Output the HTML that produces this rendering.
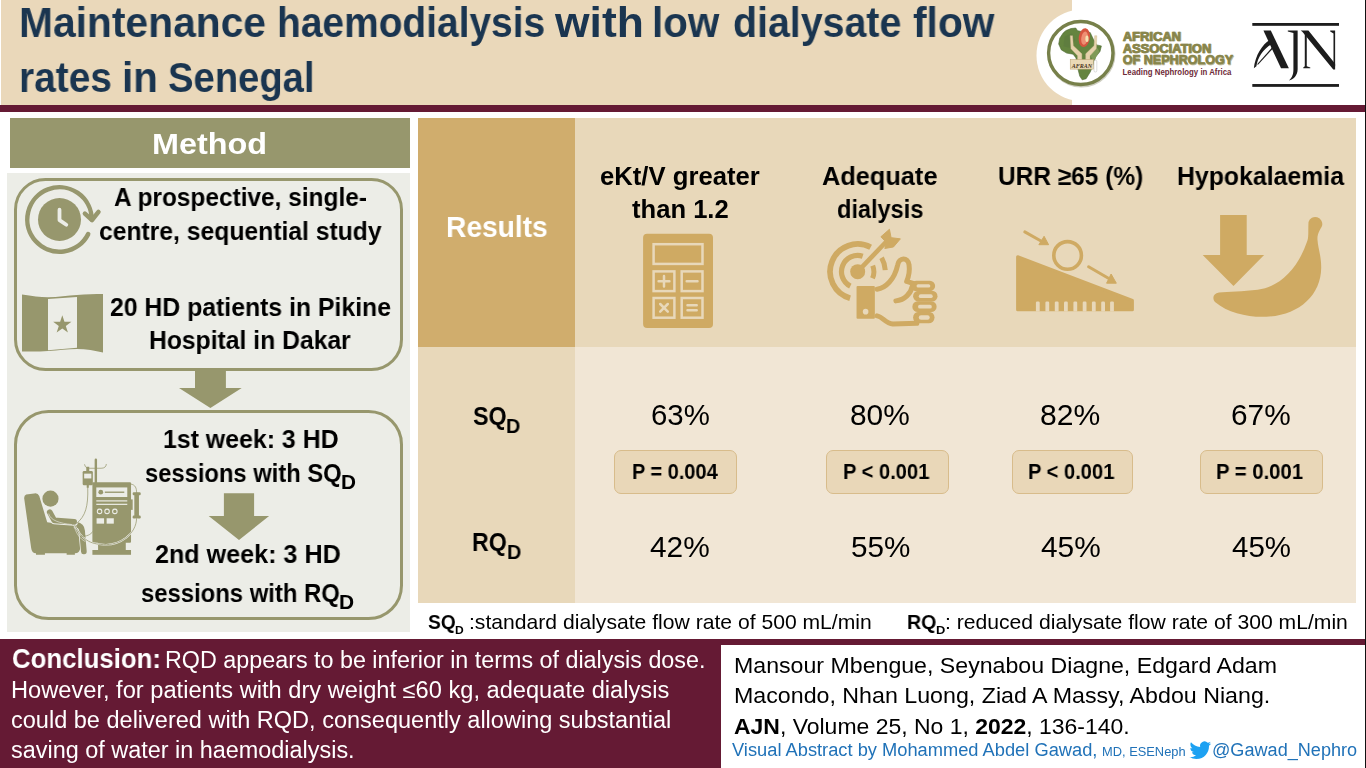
<!DOCTYPE html>
<html lang="en"><head><meta charset="utf-8"><title>Maintenance haemodialysis with low dialysate flow rates in Senegal</title>
<style>
html,body{margin:0;padding:0}
body{width:1366px;height:768px;position:relative;overflow:hidden;background:#fff;font-family:"Liberation Sans",sans-serif}
.b{position:absolute}
.t{position:absolute;white-space:nowrap;transform-origin:0 0;line-height:normal;will-change:transform}
svg{position:absolute;left:0;top:0}
</style></head><body>
<div class="b" style="left:1px;top:0px;width:1071px;height:105px;background:#EAD8BA"></div>
<div class="b" style="left:0px;top:105px;width:1366px;height:7px;background:#651A34"></div>
<div class="b" style="left:10px;top:118px;width:400px;height:50px;background:#97976D"></div>
<div class="b" style="left:7px;top:173px;width:403px;height:459px;background:#ECEDE7"></div>
<div class="b" style="left:418px;top:118px;width:157px;height:229px;background:#D0AD6D"></div>
<div class="b" style="left:575px;top:118px;width:781px;height:229px;background:#E8D8BA"></div>
<div class="b" style="left:418px;top:347px;width:157px;height:256px;background:#E8D8BA"></div>
<div class="b" style="left:575px;top:347px;width:781px;height:256px;background:#F1E6D5"></div>
<div class="b" style="left:0px;top:639px;width:1366px;height:129px;background:#651A34"></div>
<div class="b" style="left:721px;top:645px;width:645px;height:123px;background:#fff"></div>
<div class="b" style="left:1365px;top:0px;width:1px;height:768px;background:#111"></div>
<div class="b" style="left:614.2px;top:450px;width:120.8px;height:41.5px;background:#E9D7B8;border:1px solid #D8BC8B;border-radius:7px"></div>
<div class="b" style="left:826.3px;top:450px;width:120.6px;height:41.5px;background:#E9D7B8;border:1px solid #D8BC8B;border-radius:7px"></div>
<div class="b" style="left:1011.6px;top:450px;width:119.9px;height:41.5px;background:#E9D7B8;border:1px solid #D8BC8B;border-radius:7px"></div>
<div class="b" style="left:1200.3px;top:450px;width:120.3px;height:41.5px;background:#E9D7B8;border:1px solid #D8BC8B;border-radius:7px"></div>
<svg width="1366" height="768" viewBox="0 0 1366 768">
<rect x="15.5" y="179.5" width="386" height="190" rx="30" fill="none" stroke="#97976D" stroke-width="3"/>
<rect x="15.5" y="411.5" width="386" height="207" rx="33" fill="none" stroke="#97976D" stroke-width="3"/>
<polygon fill="#97976D" points="195,368 225.9,368 225.9,388.1 241.7,388.1 210.4,407.9 179,388.1 195,388.1"/>
<polygon fill="#97976D" points="223.9,493.2 254.1,493.2 254.1,516 269.1,516 239,539.9 208.7,516 223.9,516"/>
<path d="M88.19,234.12 A32.2,32.2 0 1 1 91.70,219.50" fill="none" stroke="#97976D" stroke-width="4.5" stroke-linecap="round"/>
<path d="M84.9,213.6 L92,220 L98.5,211.9" fill="none" stroke="#97976D" stroke-width="4.5" stroke-linecap="round" stroke-linejoin="round"/>
<circle cx="59.5" cy="219.5" r="21.5" fill="#97976D"/>
<path d="M59.5,209.7 L59.5,220.1 L66.3,224.7" fill="none" stroke="#ECEDE7" stroke-width="3.8" stroke-linecap="round" stroke-linejoin="round"/>
<path d="M22,294.6 C32,296 40,297.3 48,297.3 C58,297.3 68,295.5 77,295 C86,294.4 95,294 103,294 L103,352.6 C95,350.5 86,349 77,349 C68,349 58,350.5 48,351 C40,351.6 32,351.8 22,351.4 Z" fill="#97976D"/>
<polygon points="48,298.9 77,297 77,347.7 48,350.3" fill="#ECEDE7"/>
<polygon points="62.30,315.20 64.47,321.81 71.43,321.83 65.82,325.94 67.94,332.57 62.30,328.50 56.66,332.57 58.78,325.94 53.17,321.83 60.13,321.81" fill="#97976D"/>
<path d="M 26.23,494.61 Q 23.68,495.66 24.28,499.10 L 31.17,548.05 Q 31.77,553.29 35.96,553.29 L 35.96,554.79 L 44.94,554.79 L 44.94,553.29 L 66.65,553.29 L 66.65,554.79 L 74.88,554.79 L 74.88,553.29 Q 79.67,553.29 80.27,548.05 L 81.17,528.59 Q 81.17,524.40 77.13,524.40 L 64.40,524.85 L 47.19,522.16 L 39.25,496.11 Q 37.75,492.51 34.16,493.41 Z" fill="#97976D"/>
<path d="M 76.38,524.85 Q 81.62,525.60 82.07,530.84 L 84.16,551.80" fill="none" stroke="#ECEDE7" stroke-width="7.49" stroke-linecap="round"/>
<path d="M 64.40,524.40 L 76.38,524.85 Q 81.62,525.60 82.07,530.84 L 83.86,551.50" fill="none" stroke="#97976D" stroke-width="5.69" stroke-linecap="round" stroke-linejoin="round"/>
<path d="M 49.73,512.13 L 54.22,520.36 L 74.13,521.86" fill="none" stroke="#ECEDE7" stroke-width="7.78" stroke-linecap="round" stroke-linejoin="round"/>
<path d="M 49.73,512.13 L 54.22,520.36 L 74.13,521.86" fill="none" stroke="#97976D" stroke-width="5.69" stroke-linecap="round" stroke-linejoin="round"/>
<circle cx="50.48" cy="498.65" r="8.08" fill="#97976D"/>
<rect x="92.40" y="482.19" width="38.62" height="60.63" rx="1" fill="#97976D"/>
<rect x="98.08" y="542.07" width="27.69" height="8.53" fill="#97976D"/>
<rect x="92.40" y="550.00" width="38.62" height="4.79" fill="#97976D"/>
<rect x="96.29" y="487.43" width="30.99" height="9.58" fill="#ECEDE7"/>
<circle cx="100.78" cy="492.22" r="2.4" fill="#97976D"/>
<line x1="104.82" y1="492.22" x2="124.28" y2="492.22" stroke="#97976D" stroke-width="1.35"/>
<line x1="96.29" y1="500.90" x2="127.28" y2="500.90" stroke="#ECEDE7" stroke-width="1.2"/>
<line x1="96.29" y1="504.34" x2="127.28" y2="504.34" stroke="#ECEDE7" stroke-width="1.2"/>
<circle cx="99.58" cy="511.38" r="2.25" fill="none" stroke="#ECEDE7" stroke-width="1.05"/>
<circle cx="107.07" cy="511.38" r="2.25" fill="none" stroke="#ECEDE7" stroke-width="1.05"/>
<circle cx="114.85" cy="511.38" r="2.25" fill="none" stroke="#ECEDE7" stroke-width="1.05"/>
<rect x="96.59" y="518.26" width="7.49" height="5.39" fill="#ECEDE7"/>
<rect x="106.62" y="518.26" width="7.19" height="5.39" fill="#ECEDE7"/>
<line x1="95.84" y1="459.73" x2="95.84" y2="482.93" stroke="#97976D" stroke-width="2.4" stroke-linecap="round"/>
<path d="M 84.61,464.67 Q 85.36,468.71 89.85,468.26 L 101.08,468.26 Q 106.02,468.26 106.32,464.37" fill="none" stroke="#97976D" stroke-width="0.75" stroke-linecap="round"/>
<rect x="82.66" y="470.96" width="10.18" height="14.22" rx="1.3" fill="#97976D"/>
<rect x="86.26" y="466.77" width="2.99" height="4.49" fill="#97976D"/>
<rect x="84.16" y="473.65" width="7.19" height="4.79" fill="#ECEDE7"/>
<rect x="86.71" y="484.88" width="2.10" height="2.84" fill="#97976D"/>
<rect x="134.31" y="492.66" width="4.64" height="25.45" rx="1.5" fill="#97976D"/>
<rect x="132.66" y="492.22" width="8.08" height="2.99" rx="1.2" fill="#97976D"/>
<rect x="132.66" y="515.57" width="8.08" height="2.99" rx="1.2" fill="#97976D"/>
<rect x="131.02" y="499.40" width="1.65" height="10.48" fill="#97976D"/>
<path d="M 87.75,487.43 C 88.35,506.89 85.36,515.87 77.13,523.05" fill="none" stroke="#97976D" stroke-width="0.75" stroke-linecap="round"/>
<path d="M 131.02,484.13 C 135.51,484.73 136.56,488.17 136.56,492.51" fill="none" stroke="#97976D" stroke-width="0.75" stroke-linecap="round"/>
<path d="M 136.56,518.56 C 136.56,533.83 119.79,545.81 103.32,544.61 C 89.85,544.01 82.37,539.82 74.88,525.60" fill="none" stroke="#ECEDE7" stroke-width="1.65"/>
<path d="M 136.56,518.56 C 136.56,533.83 119.79,545.81 103.32,544.61 C 89.85,544.01 82.37,539.82 74.88,525.60" fill="none" stroke="#97976D" stroke-width="0.75" stroke-linecap="round"/>
<path d="M 80.87,536.08 C 86.86,536.83 90.60,534.58 92.84,531.59" fill="none" stroke="#97976D" stroke-width="0.75" stroke-linecap="round"/>
<path d="M 73.68,524.85 C 76.38,533.83 79.37,538.32 85.36,541.62" fill="none" stroke="#ECEDE7" stroke-width="0.6"/>
<path d="M 48.68,513.62 C 50.18,520.36 59.91,523.35 71.89,524.55" fill="none" stroke="#ECEDE7" stroke-width="0.6"/>
<rect x="643.1" y="233.75" width="69.9" height="94.35" rx="4" fill="#CFAA63"/>
<rect x="653.6" y="244.2" width="48.9" height="19.7" fill="none" stroke="#E8D8BA" stroke-width="2.5"/>
<rect x="653.6" y="271.4" width="20.8" height="19.7" fill="none" stroke="#E8D8BA" stroke-width="2.5"/>
<rect x="653.6" y="298.0" width="20.8" height="19.7" fill="none" stroke="#E8D8BA" stroke-width="2.5"/>
<rect x="681.7" y="271.4" width="20.8" height="19.7" fill="none" stroke="#E8D8BA" stroke-width="2.5"/>
<rect x="681.7" y="298.0" width="20.8" height="19.7" fill="none" stroke="#E8D8BA" stroke-width="2.5"/>
<path d="M658.6,281.25 H669.4 M664,275.9 V286.6 M686.7,281.25 H697.5 M660.2,304 L667.8,311.6 M667.8,304 L660.2,311.6 M687.5,305.3 H696.7 M687.5,310.3 H696.7" fill="none" stroke="#E8D8BA" stroke-width="2.5" stroke-linecap="round"/>
<path d="M870.64,247.30 A27.6,27.6 0 1 0 850.08,298.20" fill="none" stroke="#CFAA63" stroke-width="5.7"/>
<path d="M862.69,256.26 A16.2,16.2 0 0 0 850.33,286.10" fill="none" stroke="#CFAA63" stroke-width="5.2"/>
<path d="M881.59,257.87 A27.6,27.6 0 0 1 885.25,270.23" fill="none" stroke="#CFAA63" stroke-width="5.0"/>
<path d="M872.70,265.60 A16.2,16.2 0 0 1 872.48,278.26" fill="none" stroke="#CFAA63" stroke-width="5.0"/>
<line x1="857.68" y1="271.67" x2="886.89" y2="240.97" stroke="#E8D8BA" stroke-width="8.5"/>
<circle cx="857.68" cy="271.67" r="9.6" fill="#E8D8BA"/>
<line x1="857.68" y1="271.67" x2="886.89" y2="240.97" stroke="#CFAA63" stroke-width="4.6"/>
<circle cx="857.68" cy="271.67" r="7.5" fill="#CFAA63"/>
<polygon points="880.90,236.77 889.43,229.29 891.08,237.67 900.37,238.87 893.48,246.96 884.79,248.46 886.59,242.76" fill="#CFAA63" stroke="#CFAA63" stroke-width="1" stroke-linejoin="round"/>
<rect x="855.74" y="285.15" width="19.92" height="34.45" rx="1.8" fill="#CFAA63" stroke="#E8D8BA" stroke-width="1.6"/>
<circle cx="865.62" cy="311.66" r="2.8" fill="#E8D8BA"/>
<path d="M 877.15,289.19 C 885.39,288.14 894.38,279.91 897.67,264.93 C 898.87,257.44 907.86,256.69 909.05,264.93 C 910.10,272.42 908.60,276.91 906.66,281.40 L 913.85,283.65" fill="none" stroke="#CFAA63" stroke-width="5" stroke-linecap="round" stroke-linejoin="round"/>
<path d="M 877.15,315.85 C 882.40,316.60 885.39,323.34 892.88,324.09 L 916.84,323.34" fill="none" stroke="#CFAA63" stroke-width="5" stroke-linecap="round" stroke-linejoin="round"/>
<path d="M 895.87,300.87 C 904.86,300.13 910.85,293.39 912.35,285.90" fill="none" stroke="#CFAA63" stroke-width="5" stroke-linecap="round" stroke-linejoin="round"/>
<rect x="910.85" y="280.66" width="24.26" height="10.48" rx="5.24" fill="#CFAA63"/>
<rect x="916.54" y="284.25" width="13.78" height="3.29" rx="1.65" fill="#E8D8BA"/>
<rect x="913.10" y="290.69" width="24.41" height="10.93" rx="5.47" fill="#CFAA63"/>
<rect x="918.79" y="294.28" width="13.93" height="3.74" rx="1.87" fill="#E8D8BA"/>
<rect x="912.35" y="301.17" width="24.26" height="10.93" rx="5.47" fill="#CFAA63"/>
<rect x="918.04" y="304.77" width="13.78" height="3.74" rx="1.87" fill="#E8D8BA"/>
<rect x="913.10" y="311.66" width="21.42" height="11.68" rx="5.84" fill="#CFAA63"/>
<rect x="918.79" y="315.25" width="10.93" height="4.49" rx="2.25" fill="#E8D8BA"/>
<polygon points="1017.6,256.7 1132.4,300.4 1132.4,309.7 1017.6,309.7" fill="#CFAA63" stroke="#CFAA63" stroke-width="3" stroke-linejoin="round"/>
<rect x="1035.90" y="301.6" width="3.8" height="10" rx="1.2" fill="#E8D8BA"/>
<rect x="1045.40" y="301.6" width="3.8" height="10" rx="1.2" fill="#E8D8BA"/>
<rect x="1054.80" y="301.6" width="3.8" height="10" rx="1.2" fill="#E8D8BA"/>
<rect x="1064.00" y="301.6" width="3.8" height="10" rx="1.2" fill="#E8D8BA"/>
<rect x="1073.40" y="301.6" width="3.8" height="10" rx="1.2" fill="#E8D8BA"/>
<rect x="1082.70" y="301.6" width="3.8" height="10" rx="1.2" fill="#E8D8BA"/>
<rect x="1091.90" y="301.6" width="3.8" height="10" rx="1.2" fill="#E8D8BA"/>
<rect x="1101.20" y="301.6" width="3.8" height="10" rx="1.2" fill="#E8D8BA"/>
<rect x="1110.10" y="301.6" width="3.8" height="10" rx="1.2" fill="#E8D8BA"/>
<circle cx="1067.6" cy="255.4" r="13.8" fill="none" stroke="#CFAA63" stroke-width="3.6"/>
<line x1="1024.8" y1="231.9" x2="1041" y2="241" stroke="#CFAA63" stroke-width="3" stroke-linecap="round"/>
<polygon points="1044.1,236.3 1038.9,244.7 1048.6,244.7" fill="#CFAA63" stroke="#CFAA63" stroke-width="1" stroke-linejoin="round"/>
<line x1="1088.6" y1="266.8" x2="1108" y2="278" stroke="#CFAA63" stroke-width="3" stroke-linecap="round"/>
<polygon points="1111.1,274 1106.6,283.2 1116.3,283.2" fill="#CFAA63" stroke="#CFAA63" stroke-width="1" stroke-linejoin="round"/>
<polygon points="1220.1,214.9 1246.7,214.9 1246.7,255 1264.1,255 1233.5,286 1202.7,255 1220.1,255" fill="#CFAA63"/>
<path d="M1308.5,222 C1308,232 1309,238 1306.8,242.3 C1298,268 1280,287 1257.7,289.7 C1243,291.5 1228,291.5 1219,292.5 C1213,293.5 1212,298 1215,302 C1228,313 1248,317.5 1266.2,316.8 C1298,315.5 1321,296 1321.2,267.7 C1321.3,256 1318,248 1317.5,240 C1317,234 1320,230 1322,226 A6.8,6.8 0 1 0 1308.5,222 Z" fill="#CFAA63"/>
<circle cx="1082.3" cy="55.4" r="45.8" fill="#fff"/>
<ellipse cx="1081.5" cy="54" rx="32.2" ry="31.6" fill="none" stroke="#b9b9a6" stroke-width="3.6" opacity="0.7"/>
<ellipse cx="1080.8" cy="53" rx="32.2" ry="31.5" fill="#fff" stroke="#77804A" stroke-width="3.4"/>
<polygon points="1065.62,30.68 1070.96,28.55 1075.77,28.02 1077.58,30.68 1082.71,31.75 1090.18,32.50 1093.38,39.23 1096.59,44.88 1101.39,45.95 1100.00,51.50 1095.73,56.84 1093.60,63.25 1090.40,71.79 1086.12,78.73 1082.17,79.80 1079.72,76.06 1077.58,67.52 1075.98,57.91 1073.10,54.17 1066.69,53.11 1061.35,49.90 1058.68,44.03 1059.75,38.16 1062.96,33.35" fill="#64843F" stroke="#4F6A34" stroke-width="0.6" stroke-linejoin="round"/>
<polygon points="1064.56,36.56 1072.03,33.35 1075.23,39.76 1070.96,48.30 1063.49,46.17" fill="#5E7C40" opacity="0.8"/>
<polygon points="1090.18,54.71 1097.66,48.30 1099.26,51.50 1093.38,62.18" fill="#86A05C" opacity="0.8"/>
<ellipse cx="1084.31" cy="37.62" rx="5.6" ry="9.4" fill="#D6553F" transform="rotate(8 1084.31 37.62)"/>
<ellipse cx="1084.61" cy="38.12" rx="3.3" ry="6.6" fill="#EE8F73" transform="rotate(8 1084.31 37.62)"/>
<ellipse cx="1086.98" cy="38.69" rx="1.6" ry="3.2" fill="#F3E3B0"/>
<polygon points="1070.22,35.70 1072.56,35.70 1073.31,45.63 1081.85,53.85 1081.85,60.58 1077.58,60.58 1077.58,55.78 1070.96,48.84" fill="#E6D2AC" stroke="#CDB88E" stroke-width="0.4"/>
<polygon points="1096.80,35.70 1094.67,35.70 1094.03,45.63 1085.70,53.85 1085.70,60.58 1089.97,60.58 1089.97,55.78 1096.37,48.84" fill="#E6D2AC" stroke="#CDB88E" stroke-width="0.4"/>
<rect x="1070.22" y="59.51" width="23.17" height="9.61" fill="#EAD9B6" stroke="#B9A070" stroke-width="0.5"/>
<text x="1071.71" y="67.52" font-family="Liberation Serif, serif" font-size="6.6" font-weight="700" font-style="italic" fill="#4A3520" textLength="20.39" lengthAdjust="spacingAndGlyphs">AFRAN</text>
<rect x="1094.03" y="60.26" width="2.78" height="11.74" rx="1.3" fill="#fff" stroke="#bbb" stroke-width="0.5"/>
<text x="1123.3" y="41.0" font-family="Liberation Sans, sans-serif" font-size="12" font-weight="700" fill="#b9b693" stroke="#b9b693" stroke-width="0.7" stroke-linejoin="round" textLength="58.3" lengthAdjust="spacingAndGlyphs">AFRICAN</text>
<text x="1122.7" y="40.5" font-family="Liberation Sans, sans-serif" font-size="12" font-weight="700" fill="#88854A" stroke="#88854A" stroke-width="0.7" stroke-linejoin="round" textLength="58.3" lengthAdjust="spacingAndGlyphs">AFRICAN</text>
<text x="1123.3" y="53.0" font-family="Liberation Sans, sans-serif" font-size="12" font-weight="700" fill="#b9b693" stroke="#b9b693" stroke-width="0.7" stroke-linejoin="round" textLength="88.5" lengthAdjust="spacingAndGlyphs">ASSOCIATION</text>
<text x="1122.7" y="52.5" font-family="Liberation Sans, sans-serif" font-size="12" font-weight="700" fill="#88854A" stroke="#88854A" stroke-width="0.7" stroke-linejoin="round" textLength="88.5" lengthAdjust="spacingAndGlyphs">ASSOCIATION</text>
<text x="1123.3" y="64.6" font-family="Liberation Sans, sans-serif" font-size="12" font-weight="700" fill="#b9b693" stroke="#b9b693" stroke-width="0.7" stroke-linejoin="round" textLength="110.5" lengthAdjust="spacingAndGlyphs">OF NEPHROLOGY</text>
<text x="1122.7" y="64.1" font-family="Liberation Sans, sans-serif" font-size="12" font-weight="700" fill="#88854A" stroke="#88854A" stroke-width="0.7" stroke-linejoin="round" textLength="110.5" lengthAdjust="spacingAndGlyphs">OF NEPHROLOGY</text>
<text x="1122.6" y="74.8" font-family="Liberation Sans, sans-serif" font-size="9" font-weight="700" fill="#6E2B38" textLength="108.8" lengthAdjust="spacingAndGlyphs">Leading Nephrology in Africa</text>
<g transform="translate(1240 10) scale(0.11715)" fill="#1d1d1d">
<rect x="105" y="111" width="740" height="24"/><rect x="105" y="632" width="740" height="24"/>
<path d="M200,176 L263,176 L417,498 L350,498 Z"/>
<path d="M256,256 C190,290 130,390 118,498 L140,480 C150,410 195,335 268,292 Z"/>
<path d="M276,316 L148,462 L152,470 L284,326 Z"/>
<path d="M408,176 L492,176 L492,505 C492,560 455,592 418,602 C448,572 456,545 456,505 L456,196 L408,184 Z"/>
<path d="M518,176 L584,176 L812,458 L812,508 L796,508 L532,186 Z"/>
<path d="M553,190 L570,190 L570,480 L600,490 L600,498 L540,498 L540,490 L553,480 Z"/>
<path d="M770,176 L812,176 L812,480 L798,480 L798,200 L770,184 Z"/>
</g>
<g transform="translate(1189.5 739.4) scale(0.904)"><path fill="#1DA1F2" d="M23.953 4.57a10 10 0 01-2.825.775 4.958 4.958 0 002.163-2.723c-.951.555-2.005.959-3.127 1.184a4.92 4.92 0 00-8.384 4.482C7.69 8.095 4.067 6.13 1.64 3.162a4.822 4.822 0 00-.666 2.475c0 1.71.87 3.213 2.188 4.096a4.904 4.904 0 01-2.228-.616v.06a4.923 4.923 0 003.946 4.827 4.996 4.996 0 01-2.212.085 4.936 4.936 0 004.604 3.417 9.867 9.867 0 01-6.102 2.105c-.39 0-.779-.023-1.17-.067a13.995 13.995 0 007.557 2.209c9.053 0 13.998-7.496 13.998-13.985 0-.21 0-.42-.015-.63A9.935 9.935 0 0024 4.59z"/></g>
</svg>
<span class="t" style="left:18.70px;top:-1.00px;font-size:41.6px;font-weight:700;color:#1A3550;transform:scaleX(0.9804)">Maintenance</span>
<span class="t" style="left:276.69px;top:-1.00px;font-size:41.6px;font-weight:700;color:#1A3550;transform:scaleX(0.9355)">haemodialysis</span>
<span class="t" style="left:554.50px;top:-1.00px;font-size:41.6px;font-weight:700;color:#1A3550;transform:scaleX(1.0683)">with</span>
<span class="t" style="left:652.39px;top:-1.00px;font-size:41.6px;font-weight:700;color:#1A3550;transform:scaleX(0.9706)">low</span>
<span class="t" style="left:732.75px;top:-1.00px;font-size:41.6px;font-weight:700;color:#1A3550;transform:scaleX(0.9454)">dialysate</span>
<span class="t" style="left:912.67px;top:-1.00px;font-size:41.6px;font-weight:700;color:#1A3550;transform:scaleX(0.9794)">flow</span>
<span class="t" style="left:18.93px;top:54.00px;font-size:41.6px;font-weight:700;color:#1A3550;transform:scaleX(0.9347)">rates</span>
<span class="t" style="left:121.69px;top:54.00px;font-size:41.6px;font-weight:700;color:#1A3550;transform:scaleX(0.9714)">in</span>
<span class="t" style="left:168.05px;top:54.00px;font-size:41.6px;font-weight:700;color:#1A3550;transform:scaleX(0.9185)">Senegal</span>
<span class="t" style="left:152.26px;top:127.00px;font-size:30.3px;font-weight:700;color:#fff;transform:scaleX(1.0680)">Method</span>
<span class="t" style="left:114.18px;top:183.00px;font-size:25.6px;font-weight:700;color:#000;transform:scaleX(0.9546)">A prospective, single-</span>
<span class="t" style="left:99.04px;top:217.00px;font-size:25.6px;font-weight:700;color:#000;transform:scaleX(0.9645)">centre, sequential study</span>
<span class="t" style="left:109.93px;top:293.00px;font-size:25.6px;font-weight:700;color:#000;transform:scaleX(0.9683)">20 HD patients in Pikine</span>
<span class="t" style="left:148.91px;top:326.00px;font-size:25.6px;font-weight:700;color:#000;transform:scaleX(0.9647)">Hospital in Dakar</span>
<span class="t" style="left:162.84px;top:425.00px;font-size:25.6px;font-weight:700;color:#000;transform:scaleX(0.9719)">1st week: 3 HD</span>
<span class="t" style="left:145.27px;top:459.00px;font-size:25.6px;font-weight:700;color:#000;transform:scaleX(0.9278)">sessions with SQ</span>
<span class="t" style="left:341.09px;top:470.00px;font-size:20.6px;font-weight:700;color:#000;transform:scaleX(1.0080)">D</span>
<span class="t" style="left:154.52px;top:540.00px;font-size:25.6px;font-weight:700;color:#000;transform:scaleX(0.9818)">2nd week: 3 HD</span>
<span class="t" style="left:140.97px;top:579.00px;font-size:25.6px;font-weight:700;color:#000;transform:scaleX(0.9316)">sessions with RQ</span>
<span class="t" style="left:339.28px;top:590.00px;font-size:20.6px;font-weight:700;color:#000;transform:scaleX(1.0160)">D</span>
<span class="t" style="left:445.84px;top:210.00px;font-size:30.3px;font-weight:700;color:#fff;transform:scaleX(0.9299)">Results</span>
<span class="t" style="left:599.80px;top:162.00px;font-size:25.6px;font-weight:700;color:#000;transform:scaleX(1.0032)">eKt/V greater</span>
<span class="t" style="left:631.95px;top:195.00px;font-size:25.6px;font-weight:700;color:#000;transform:scaleX(0.9958)">than 1.2</span>
<span class="t" style="left:822.46px;top:162.00px;font-size:25.6px;font-weight:700;color:#000;transform:scaleX(0.9904)">Adequate</span>
<span class="t" style="left:837.28px;top:195.00px;font-size:25.6px;font-weight:700;color:#000;transform:scaleX(0.9199)">dialysis</span>
<span class="t" style="left:998.07px;top:162.00px;font-size:25.6px;font-weight:700;color:#000;transform:scaleX(0.9554)">URR &ge;65 (%)</span>
<span class="t" style="left:1176.90px;top:162.00px;font-size:25.6px;font-weight:700;color:#000;transform:scaleX(0.9701)">Hypokalaemia</span>
<span class="t" style="left:473.02px;top:402.00px;font-size:25.5px;font-weight:700;color:#000;transform:scaleX(0.9114)">SQ</span>
<span class="t" style="left:505.76px;top:414.00px;font-size:20.6px;font-weight:700;color:#000;transform:scaleX(0.9600)">D</span>
<span class="t" style="left:472.11px;top:528.00px;font-size:25.5px;font-weight:700;color:#000;transform:scaleX(0.9070)">RQ</span>
<span class="t" style="left:507.16px;top:540.00px;font-size:20.6px;font-weight:700;color:#000;transform:scaleX(0.9600)">D</span>
<span class="t" style="left:650.91px;top:398.00px;font-size:29.4px;font-weight:400;color:#000;transform:scaleX(0.9956)">63%</span>
<span class="t" style="left:850.33px;top:398.00px;font-size:29.4px;font-weight:400;color:#000;transform:scaleX(1.0159)">80%</span>
<span class="t" style="left:1040.12px;top:398.00px;font-size:29.4px;font-weight:400;color:#000;transform:scaleX(1.0248)">82%</span>
<span class="t" style="left:1230.78px;top:398.00px;font-size:29.4px;font-weight:400;color:#000;transform:scaleX(1.0151)">67%</span>
<span class="t" style="left:650.24px;top:530.00px;font-size:29.4px;font-weight:400;color:#000;transform:scaleX(1.0158)">42%</span>
<span class="t" style="left:850.74px;top:530.00px;font-size:29.4px;font-weight:400;color:#000;transform:scaleX(1.0088)">55%</span>
<span class="t" style="left:1040.64px;top:530.00px;font-size:29.4px;font-weight:400;color:#000;transform:scaleX(1.0158)">45%</span>
<span class="t" style="left:1231.55px;top:530.00px;font-size:29.4px;font-weight:400;color:#000;transform:scaleX(1.0018)">45%</span>
<span class="t" style="left:631.90px;top:460.00px;font-size:21.4px;font-weight:700;color:#000;transform:scaleX(0.9330)">P = 0.004</span>
<span class="t" style="left:843.09px;top:460.00px;font-size:21.4px;font-weight:700;color:#000;transform:scaleX(0.9404)">P &lt; 0.001</span>
<span class="t" style="left:1028.29px;top:460.00px;font-size:21.4px;font-weight:700;color:#000;transform:scaleX(0.9404)">P &lt; 0.001</span>
<span class="t" style="left:1216.48px;top:460.00px;font-size:21.4px;font-weight:700;color:#000;transform:scaleX(0.9482)">P = 0.001</span>
<span class="t" style="left:428.10px;top:610.00px;font-size:20.6px;font-weight:700;color:#000;transform:scaleX(0.9310)">SQ</span>
<span class="t" style="left:454.91px;top:625.00px;font-size:10.2px;font-weight:700;color:#000;transform:scaleX(1.1840)">D</span>
<span class="t" style="left:469.15px;top:610.00px;font-size:20.6px;font-weight:400;color:#000;transform:scaleX(1.0258)">:standard dialysate flow rate of 500 mL/min</span>
<span class="t" style="left:907.37px;top:610.00px;font-size:20.6px;font-weight:700;color:#000;transform:scaleX(0.9544)">RQ</span>
<span class="t" style="left:935.95px;top:625.00px;font-size:10.2px;font-weight:700;color:#000;transform:scaleX(1.2640)">D</span>
<span class="t" style="left:945.35px;top:610.00px;font-size:20.6px;font-weight:400;color:#000;transform:scaleX(1.0261)">: reduced dialysate flow rate of 300 mL/min</span>
<span class="t" style="left:11.55px;top:644.00px;font-size:27px;font-weight:700;color:#fff;transform:scaleX(0.9548)">Conclusion:</span>
<span class="t" style="left:165.37px;top:647.00px;font-size:23px;font-weight:400;color:#fff;transform:scaleX(1.0138)">RQD appears to be inferior in terms of dialysis dose.</span>
<span class="t" style="left:11.04px;top:677.00px;font-size:23px;font-weight:400;color:#fff;transform:scaleX(1.0279)">However, for patients with dry weight &le;60 kg, adequate dialysis</span>
<span class="t" style="left:10.88px;top:707.00px;font-size:23px;font-weight:400;color:#fff;transform:scaleX(1.0227)">could be delivered with RQD, consequently allowing substantial</span>
<span class="t" style="left:11.14px;top:737.00px;font-size:23px;font-weight:400;color:#fff;transform:scaleX(1.0181)">saving of water in haemodialysis.</span>
<span class="t" style="left:733.91px;top:653.00px;font-size:22.6px;font-weight:400;color:#000;transform:scaleX(1.0244)">Mansour Mbengue, Seynabou Diagne, Edgard Adam</span>
<span class="t" style="left:733.90px;top:683.00px;font-size:22.6px;font-weight:400;color:#000;transform:scaleX(1.0271)">Macondo, Nhan Luong, Ziad A Massy, Abdou Niang.</span>
<span class="t" style="left:733.69px;top:714.00px;font-size:22.6px;font-weight:400;color:#000;transform:scaleX(1.0162)"><b>AJN</b>, Volume 25, No 1, <b>2022</b>, 136-140.</span>
<span class="t" style="left:731.94px;top:740.00px;font-size:17.6px;font-weight:400;color:#2072B8;transform:scaleX(1.0389)">Visual Abstract by Mohammed Abdel Gawad,</span>
<span class="t" style="left:1101.56px;top:745.00px;font-size:12.4px;font-weight:400;color:#2072B8;transform:scaleX(1.0375)">MD, ESENeph</span>
<span class="t" style="left:1211.96px;top:740.00px;font-size:17.6px;font-weight:400;color:#2072B8;transform:scaleX(1.0285)">@Gawad_Nephro</span>
</body></html>
